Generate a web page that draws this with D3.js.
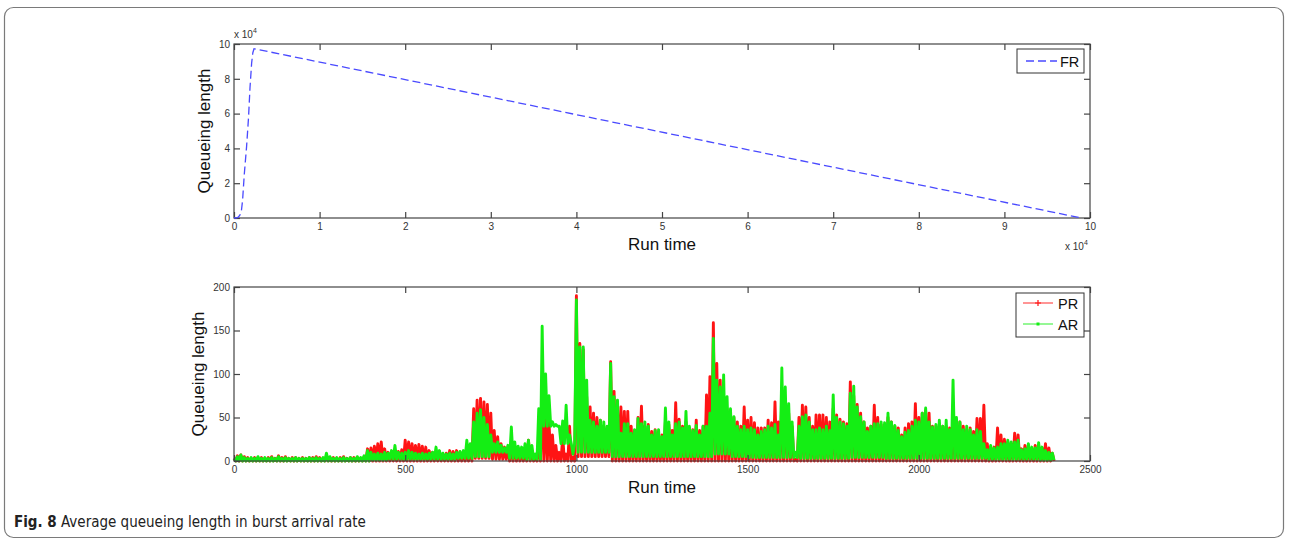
<!DOCTYPE html>
<html>
<head>
<meta charset="utf-8">
<script src="https://cdn.jsdelivr.net/npm/d3@7/dist/d3.min.js"></script>
<style>
  body { margin: 0; background: #fff; }
  text { font-family: "Liberation Sans", Arial, sans-serif; }
</style>
</head>
<body>
<script>
// top panel, FR
var frTime  = [0, 300, 500, 700, 870, 1000, 1200, 1470, 1700, 1870, 2060, 2200, 2340, 99000];
var frQueue = [0, 100, 500, 1800, 4400, 10000, 25000, 41000, 58000, 75000, 89000, 95000, 97300, 0];
var frXTicks = [0, 10000, 20000, 30000, 40000, 50000, 60000, 70000, 80000, 90000, 100000];
var frYTicks = [0, 20000, 40000, 60000, 80000, 100000];

// bottom panel, PR / AR peaks every 10 time units (0..2390)
var runStep = 10;
var arPeak = [
  3,5,7,4,3,4,3,5,3,4,  3,4,3,5,3,4,3,3,4,3,  3,3,4,3,4,3,4,9,5,3,  4,3,4,3,4,3,5,4,6,12,
  10,8,9,8,10,9,12,18,10,9,  10,12,10,9,8,9,8,9,10,16,  12,9,8,9,8,10,11,12,24,20,
  45,55,59,50,42,30,20,22,18,15,  18,39,22,17,16,20,24,18,8,60,  155,100,75,45,42,40,46,64,30,8,
  185,131,131,93,47,45,40,47,45,40,  112,74,70,32,43,43,32,36,49,43,  45,40,30,35,36,28,61,45,30,43,
  45,38,57,40,35,41,30,40,40,55,  141,93,85,99,74,60,51,40,36,40,  36,38,36,30,34,36,40,38,42,30,
  107,85,66,45,10,40,51,53,45,36,  36,38,36,40,35,76,50,45,43,40,  78,86,62,51,45,34,40,43,43,45,
  44,55,45,41,35,28,33,35,40,47,  45,55,61,45,39,42,47,40,47,36,  93,50,45,36,40,36,30,36,34,20,
  13,18,15,16,20,20,24,22,22,24,  13,14,20,16,15,21,16,12,10,9
];
var prPeak = [
  3,6,7,5,4,3,4,3,4,3,  4,5,3,6,4,5,3,4,4,3,  4,3,4,4,5,4,3,5,4,4,  3,4,5,3,4,4,4,3,5,14,
  15,17,20,22,14,10,9,10,11,13,  24,22,20,18,19,17,16,12,10,9,  9,8,9,12,11,12,10,11,13,14,
  60,70,72,68,65,55,35,28,20,16,  15,16,18,15,14,12,24,12,4,20,  93,60,45,30,18,10,28,8,40,4,
  190,135,128,74,62,55,50,47,40,35,  114,80,62,62,57,57,40,35,50,63,  40,42,34,36,30,30,45,42,35,67,
  48,40,45,38,36,47,35,40,76,97,  159,112,93,75,60,55,50,45,40,62,  47,50,44,38,38,38,47,44,68,45,
  74,70,55,40,2,50,64,62,50,40,  53,53,53,50,45,60,53,48,45,43,  91,75,65,55,45,38,40,64,50,42,
  40,50,45,40,38,30,38,43,45,66,  50,55,58,55,40,40,43,40,40,38,  60,43,45,40,36,38,34,49,49,64,
  20,16,16,38,30,25,22,20,32,30,  14,18,18,14,18,18,15,20,15,9
];
// troughs between the peaks, one per 50 time units
var lowStep = 50;
var arLow = [0,0,0,0,0,0,0,0, 1,2,2,2,2,3,5,10, 3,2,40,20,10,10,5,5,
             5,5,5,5,8,5,4,4, 4,3,3,3,4,4,3,3, 3,3,3,3,2,2,2,1];
var prLow = [0,0,0,0,0,0,0,0, 0,0,0,0,0,0,3,2, 0,0,0,0,5,5,0,0,
             0,0,0,0,0,0,0,0, 0,0,0,0,0,0,0,0, 0,0,0,0,0,0,0,0];
var runXTicks = [0, 500, 1000, 1500, 2000, 2500];
var runYTicks = [0, 50, 100, 150, 200];

var w = 1290, h = 544;
var svg = d3.select("body").append("svg")
            .attr("width", w)
            .attr("height", h);

// outer frame + caption
svg.append("rect")
   .attr("x", 4.5).attr("y", 7.5)
   .attr("width", 1279).attr("height", 530)
   .attr("rx", 9)
   .attr("fill", "none").attr("stroke", "#7a7a7a").attr("stroke-width", 1.2);

var cap = svg.append("text")
   .attr("x", 14).attr("y", 527)
   .style("font-family", "'Liberation Sans Narrow', 'DejaVu Sans Condensed', sans-serif")
   .style("font-size", "15px").attr("fill", "#222");
cap.append("tspan").style("font-weight", "bold").text("Fig. 8");
cap.append("tspan").text(" Average queueing length in burst arrival rate");

function drawAxes(g, xScale, yScale, xTicks, yTicks, fmt) {
  var x0 = xScale.range()[0], x1 = xScale.range()[1];
  var y0 = yScale.range()[0], y1 = yScale.range()[1];

  g.append("g").attr("transform", "translate(0," + y0 + ")")
   .call(d3.axisBottom(xScale).tickValues(xTicks).tickFormat(fmt)
          .tickSizeInner(-6).tickSizeOuter(0).tickPadding(5));
  g.append("g").attr("transform", "translate(0," + y1 + ")")
   .call(d3.axisTop(xScale).tickValues(xTicks).tickFormat("")
          .tickSizeInner(-6).tickSizeOuter(0));
  g.append("g").attr("transform", "translate(" + x0 + ",0)")
   .call(d3.axisLeft(yScale).tickValues(yTicks).tickFormat(fmt)
          .tickSizeInner(-6).tickSizeOuter(0).tickPadding(4));
  g.append("g").attr("transform", "translate(" + x1 + ",0)")
   .call(d3.axisRight(yScale).tickValues(yTicks).tickFormat("")
          .tickSizeInner(-6).tickSizeOuter(0));

  g.selectAll(".domain").remove();
  g.selectAll(".tick line").attr("stroke", "#444").attr("stroke-width", 1.2);
  g.selectAll(".tick text")
   .style("font-size", "10px").attr("fill", "#333")
   .style("font-family", "'Liberation Sans', Arial, sans-serif");

  g.append("rect")
   .attr("x", x0).attr("y", y1)
   .attr("width", x1 - x0).attr("height", y0 - y1)
   .attr("fill", "none").attr("stroke", "#444").attr("stroke-width", 1.2);
}

function axisTitles(g, xScale, yScale, yTitleX, xTitleY) {
  var xm = (xScale.range()[0] + xScale.range()[1]) / 2;
  var ym = (yScale.range()[0] + yScale.range()[1]) / 2;
  g.append("text")
   .attr("x", xm).attr("y", xTitleY)
   .attr("text-anchor", "middle")
   .style("font-size", "17px").attr("fill", "#111")
   .text("Run time");
  g.append("text")
   .attr("transform", "translate(" + yTitleX + "," + ym + ") rotate(-90)")
   .attr("text-anchor", "middle")
   .style("font-size", "17px").attr("fill", "#111")
   .text("Queueing length");
}

function expLabel(g, x, y) {
  var t = g.append("text").attr("x", x).attr("y", y)
           .style("font-size", "10px").attr("fill", "#333");
  t.append("tspan").text("x 10");
  t.append("tspan").attr("dy", -5).style("font-size", "7px").text("4");
}

//////// top panel
var topPanel = svg.append("g");
var xTop = d3.scaleLinear().domain([0, 100000]).range([234, 1090]);
var yTop = d3.scaleLinear().domain([0, 100000]).range([218, 44]);

drawAxes(topPanel, xTop, yTop, frXTicks, frYTicks, function(d) { return d / 10000; });
axisTitles(topPanel, xTop, yTop, 210, 250);
expLabel(topPanel, 234, 38);
expLabel(topPanel, 1065, 250);

var frPts = frTime.map(function(t, i) { return [t, frQueue[i]]; });
topPanel.append("path")
   .datum(frPts)
   .attr("d", d3.line()
                .x(function(d) { return xTop(d[0]); })
                .y(function(d) { return yTop(d[1]); }))
   .attr("fill", "none")
   .attr("stroke", "#4a4aff")
   .attr("stroke-width", 1.3)
   .attr("stroke-dasharray", "8,4");

// legend FR
var lgTop = topPanel.append("g");
lgTop.append("rect")
   .attr("x", 1017).attr("y", 49).attr("width", 67).attr("height", 24)
   .attr("fill", "#fff").attr("stroke", "#333").attr("stroke-width", 1);
lgTop.append("line")
   .attr("x1", 1026).attr("x2", 1057).attr("y1", 61).attr("y2", 61)
   .attr("stroke", "#4a4aff").attr("stroke-width", 1.3).attr("stroke-dasharray", "8,4");
lgTop.append("text")
   .attr("x", 1060).attr("y", 66.5)
   .style("font-size", "14.5px").attr("fill", "#111").text("FR");

//////// bottom panel
var botPanel = svg.append("g");
var xBot = d3.scaleLinear().domain([0, 2500]).range([234, 1090]);
var yBot = d3.scaleLinear().domain([0, 200]).range([461, 287]);

function zigzag(peaks, lows) {
  var pts = [];
  peaks.forEach(function(v, i) {
    var t = i * runStep;
    pts.push([t, v]);
    pts.push([t + runStep / 2, lows[Math.floor(t / lowStep)]]);
  });
  return pts;
}

var runLine = d3.line()
                .x(function(d) { return xBot(d[0]); })
                .y(function(d) { return yBot(d[1]); });

var series = [
  {name: "PR", color: "#ff1414", pts: zigzag(prPeak, prLow)},
  {name: "AR", color: "#14ee14", pts: zigzag(arPeak, arLow)}
];

series.forEach(function(s) {
  botPanel.append("path")
     .datum(s.pts)
     .attr("d", runLine)
     .attr("fill", "none")
     .attr("stroke", s.color)
     .attr("stroke-width", 2.9)
     .attr("stroke-linejoin", "round");
});

drawAxes(botPanel, xBot, yBot, runXTicks, runYTicks, d3.format("d"));
axisTitles(botPanel, xBot, yBot, 204, 493);

// legend PR / AR
var lgBot = botPanel.append("g");
lgBot.append("rect")
   .attr("x", 1016).attr("y", 293).attr("width", 68).attr("height", 44)
   .attr("fill", "#fff").attr("stroke", "#333").attr("stroke-width", 1);
series.forEach(function(s, i) {
  var ly = 303 + i * 21;
  lgBot.append("line")
     .attr("x1", 1023).attr("x2", 1053).attr("y1", ly).attr("y2", ly)
     .attr("stroke", s.color).attr("stroke-width", 1.2).attr("opacity", 0.75);
  if (i === 0) {
    lgBot.append("path")
       .attr("d", "M1035," + ly + "h6M1038," + (ly - 3) + "v6")
       .attr("stroke", s.color).attr("stroke-width", 1.2);
  } else {
    lgBot.append("rect")
       .attr("x", 1036.5).attr("y", ly - 1.5).attr("width", 3).attr("height", 3)
       .attr("fill", s.color);
  }
  lgBot.append("text")
     .attr("x", 1058).attr("y", ly + 5.5)
     .style("font-size", "14.5px").attr("fill", "#111").text(s.name);
});
</script>
</body>
</html>
